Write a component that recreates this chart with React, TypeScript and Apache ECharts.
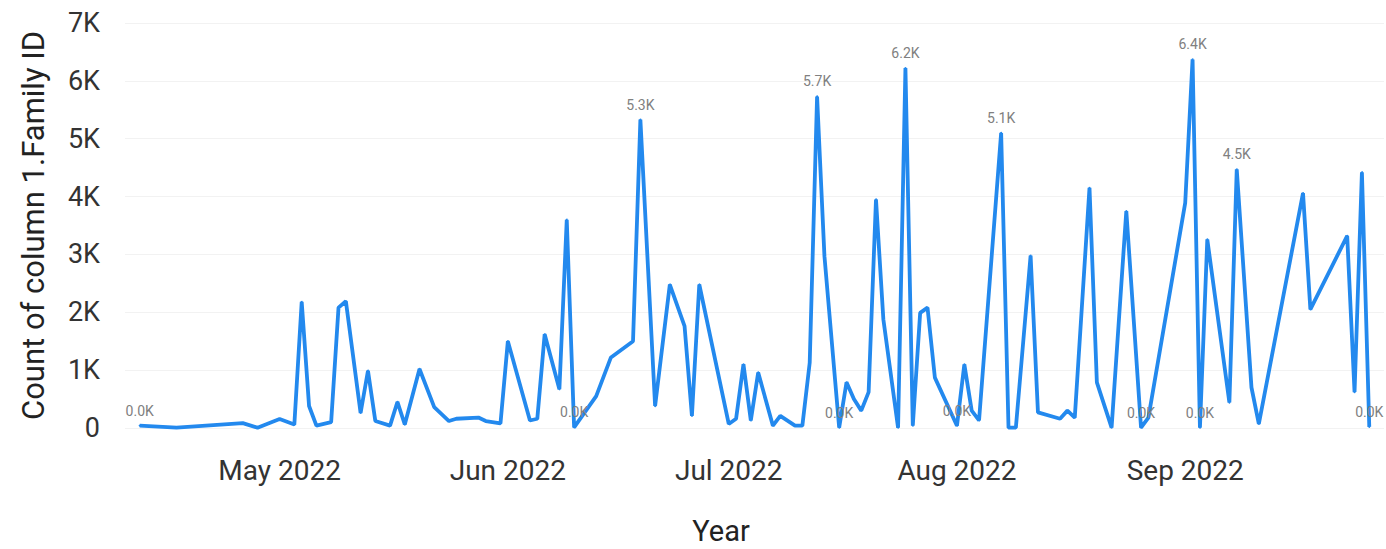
import React, { useEffect, useRef } from 'react';
import * as echarts from 'echarts';

const dates: string[] = [
  '2022-04-12', '2022-04-17', '2022-04-26', '2022-04-28', '2022-05-01', '2022-05-03', '2022-05-04', '2022-05-05',
  '2022-05-06', '2022-05-08', '2022-05-09', '2022-05-10', '2022-05-12', '2022-05-13', '2022-05-14', '2022-05-16',
  '2022-05-17', '2022-05-18', '2022-05-20', '2022-05-22', '2022-05-24', '2022-05-25', '2022-05-28', '2022-05-29',
  '2022-05-31', '2022-06-01', '2022-06-04', '2022-06-05', '2022-06-06', '2022-06-08', '2022-06-09', '2022-06-10',
  '2022-06-13', '2022-06-15', '2022-06-18', '2022-06-19', '2022-06-21', '2022-06-23', '2022-06-25', '2022-06-26',
  '2022-06-27', '2022-07-01', '2022-07-02', '2022-07-03', '2022-07-04', '2022-07-05', '2022-07-07', '2022-07-08',
  '2022-07-10', '2022-07-11', '2022-07-12', '2022-07-13', '2022-07-14', '2022-07-16', '2022-07-17', '2022-07-18',
  '2022-07-19', '2022-07-20', '2022-07-21', '2022-07-22', '2022-07-24', '2022-07-25', '2022-07-26', '2022-07-27',
  '2022-07-28', '2022-07-29', '2022-08-01', '2022-08-02', '2022-08-03', '2022-08-04', '2022-08-07', '2022-08-08',
  '2022-08-09', '2022-08-11', '2022-08-12', '2022-08-15', '2022-08-16', '2022-08-17', '2022-08-19', '2022-08-20',
  '2022-08-22', '2022-08-24', '2022-08-26', '2022-08-27', '2022-09-01', '2022-09-02', '2022-09-03', '2022-09-04',
  '2022-09-07', '2022-09-08', '2022-09-10', '2022-09-11', '2022-09-17', '2022-09-18', '2022-09-23', '2022-09-24',
  '2022-09-25', '2022-09-26',
];

const counts: number[] = [
  40, 5, 85, 5, 155, 60, 2180, 380,
  40, 100, 2080, 2190, 260, 990, 120, 40,
  450, 60, 1020, 360, 120, 160, 180, 120,
  80, 1500, 130, 160, 1620, 670, 3600, 10,
  550, 1220, 1500, 5330, 380, 2480, 1760, 210,
  2480, 70, 160, 1100, 130, 960, 40, 210,
  40, 40, 1130, 5730, 2970, 5, 790, 500,
  300, 620, 3950, 1880, 5, 6220, 40, 1990,
  2080, 870, 40, 1100, 300, 130, 5100, 5,
  5, 2980, 270, 160, 300, 180, 4150, 790,
  5, 3750, 5, 180, 3890, 6370, 5, 3260,
  440, 4470, 700, 70, 4060, 2050, 3320, 620,
  4420, 20,
];

const labeledDates: string[] = [
  '2022-04-12', '2022-06-10', '2022-06-19', '2022-07-13', '2022-07-16', '2022-07-25', '2022-08-01',
  '2022-08-07', '2022-08-26', '2022-09-02', '2022-09-03', '2022-09-08', '2022-09-26',
];

const monthTicks: string[] = ['2022-05-01', '2022-06-01', '2022-07-01', '2022-08-01', '2022-09-01'];
const axisStart = '2022-04-10';
const axisEnd = '2022-09-28';
const MONTHS = ['Jan', 'Feb', 'Mar', 'Apr', 'May', 'Jun', 'Jul', 'Aug', 'Sep', 'Oct', 'Nov', 'Dec'];

const toTs = (s: string) => {
  const [y, m, d] = s.split('-').map(Number);
  return Date.UTC(y, m - 1, d);
};

export default function App() {
  const ref = useRef<HTMLDivElement>(null);
  useEffect(() => {
    document.body.style.margin = '0';
    const chart = echarts.init(ref.current!, null, { renderer: 'svg' });
    const data = dates.map((d, i) => {
      const item: any = { value: [toTs(d), counts[i]] };
      if (labeledDates.includes(d)) item.label = { show: true };
      return item;
    });
    chart.setOption({
      animation: false,
      backgroundColor: '#ffffff',
      grid: { left: 125, right: 2, top: 23, bottom: 121 },
      xAxis: {
        type: 'value',
        min: toTs(axisStart),
        max: toTs(axisEnd),
        axisLine: { show: false },
        axisTick: { show: false },
        splitLine: { show: false },
        axisLabel: {
          customValues: monthTicks.map(toTs),
          margin: 28,
          fontFamily: 'Roboto',
          fontSize: 28,
          color: '#333333',
          formatter: (v: number) => {
            const dt = new Date(v);
            return `${MONTHS[dt.getUTCMonth()]} ${dt.getUTCFullYear()}`;
          },
        },
      },
      yAxis: {
        type: 'value',
        min: 0,
        max: 7000,
        interval: 1000,
        name: 'Count of column 1.Family ID',
        nameLocation: 'middle',
        nameGap: 76,
        nameTextStyle: { fontFamily: 'Roboto', fontSize: 31, color: '#222222' },
        axisLine: { show: false },
        axisTick: { show: false },
        splitLine: { lineStyle: { color: '#f2f2f2', width: 1 } },
        axisLabel: {
          margin: 25,
          fontFamily: 'Roboto',
          fontSize: 27,
          color: '#333333',
          padding: [0, 0, 6, 0],
          formatter: (v: number) => (v === 0 ? '0' : `${v / 1000}K`),
        },
      },
      graphic: [
        {
          type: 'text',
          x: 721,
          y: 531,
          style: {
            text: 'Year',
            fontFamily: 'Roboto',
            fontSize: 29,
            fill: '#222222',
            textAlign: 'center',
            textVerticalAlign: 'middle',
          },
        },
      ],
      series: [
        {
          type: 'line',
          data,
          symbol: 'circle',
          symbolSize: 2,
          showSymbol: true,
          itemStyle: { color: '#2389EE' },
          lineStyle: { color: '#2389EE', width: 3.8 },
          label: {
            show: false,
            position: 'top',
            distance: 7,
            fontFamily: 'Roboto',
            fontSize: 14,
            color: '#808080',
            formatter: (p: any) => `${(p.value[1] / 1000).toFixed(1)}K`,
          },
          labelLayout: { hideOverlap: false },
        },
      ],
    });
    return () => chart.dispose();
  }, []);
  return <div ref={ref} style={{ width: 1386, height: 549 }} />;
}
